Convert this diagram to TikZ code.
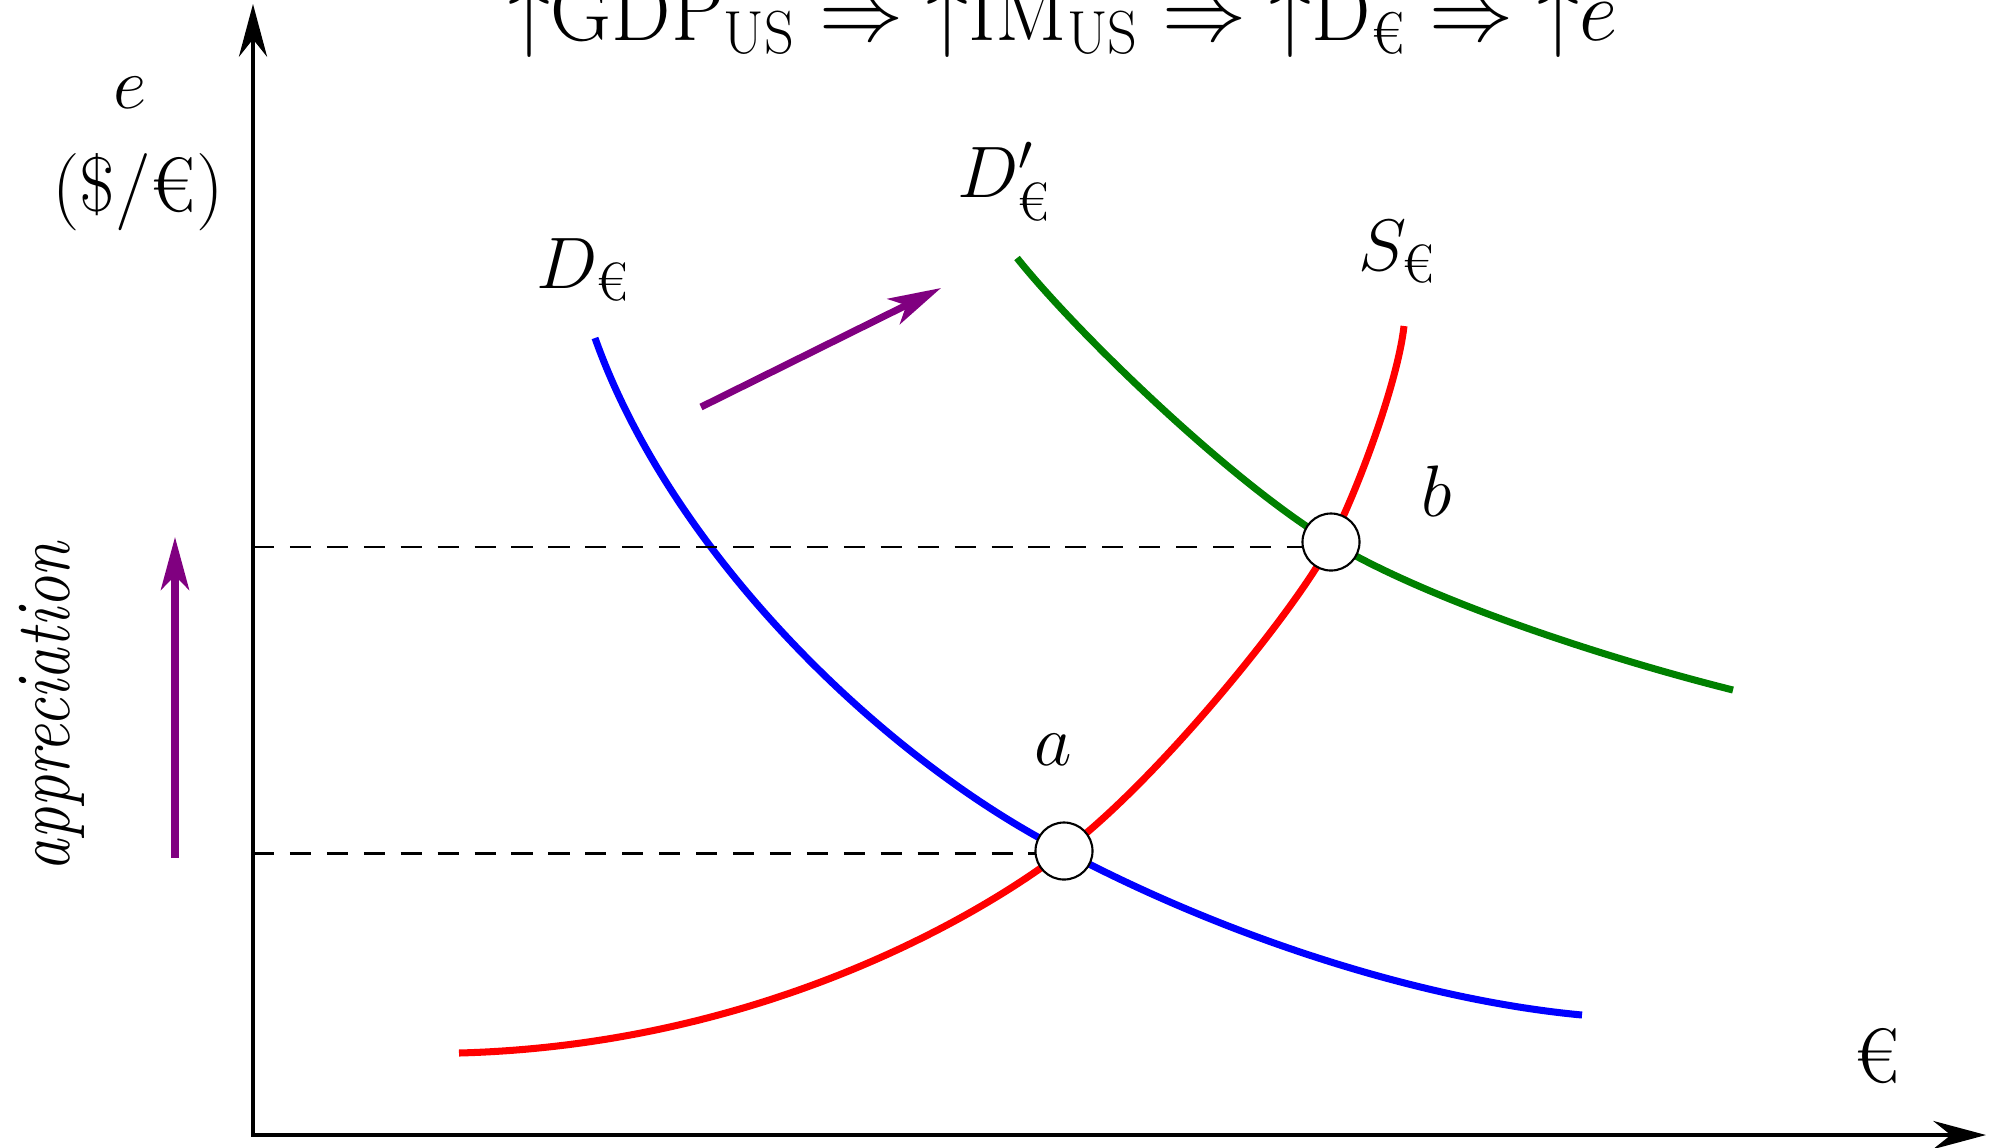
\documentclass[tikz,border=0pt]{standalone}
\usepackage{amsmath}
\usetikzlibrary{arrows.meta}
\definecolor{dgreen}{RGB}{0,128,0}
\definecolor{purp}{RGB}{128,0,128}
\newcommand{\eur}{\text{€}}
\begin{document}
\begin{tikzpicture}[x=0.01cm,y=-0.01cm,
  lbl/.style={inner sep=0pt, font=\fontsize{22}{26}\selectfont},
  axisline/.style={line width=1.1pt, -{Stealth[length=15pt,width=8pt,inset=5pt]}},
  curve/.style={line width=2pt},
  shiftarrow/.style={purp, line width=2pt, -{Stealth[length=15pt,width=8pt,inset=4pt]}},
  guide/.style={line width=0.75pt, dash pattern=on 6pt off 4.5pt},
  eqpt/.style={circle, draw=black, fill=white, line width=0.6pt, minimum size=0.57cm, inner sep=0pt}]
\useasboundingbox (0,0) rectangle (1990,1147);
\clip (0,0) rectangle (1990,1147);

% axes
\coordinate (O) at (253,1135);
\coordinate (Ytop) at (253,4);
\coordinate (Xend) at (1986,1135);
\draw[axisline] ([yshift=-0.55pt]O) -- (Ytop);
\draw[axisline] ([xshift=-0.55pt]O) -- (Xend);

% equilibrium positions
\coordinate (pa) at (1064,851);
\coordinate (pb) at (1331,542);

% curve end points
\coordinate (Dstart) at (595,338);
\coordinate (Dend) at (1582,1015);
\coordinate (Sstart) at (459,1053);
\coordinate (Send) at (1404,326);
\coordinate (Gstart) at (1017,258);
\coordinate (Gend) at (1733,690);

% curves
\draw[curve, blue] (Dstart) .. controls (672,555) and (885,760) .. (pa)
                        .. controls (1224,936) and (1420,1000) .. (Dend);
\draw[curve, red] (Sstart) .. controls (760,1045) and (980,916) .. (pa)
                       .. controls (1162,777) and (1303,600) .. (pb)
                       .. controls (1360,485) and (1398,380) .. (Send);
\draw[curve, dgreen] (Gstart) .. controls (1077,333) and (1231,482) .. (pb)
                          .. controls (1431,602) and (1613,660) .. (Gend);

% equilibrium circles
\node[eqpt] (a) at (pa) {};
\node[eqpt] (b) at (pb) {};

% dashed guides
\draw[guide] (O |- a.185) -- (a.185);
\draw[guide] (O |- b.190) -- (b.190);

% shift arrows
\coordinate (s1) at (701,407);
\coordinate (s2) at (941,288);
\draw[shiftarrow] (s1) -- (s2);
\coordinate (v1) at (175,858);
\coordinate (v2) at (175,537);
\draw[shiftarrow] (v1) -- (v2);

% labels
\node[lbl, font=\fontsize{24}{29}\selectfont, xscale=0.96, anchor=base] (title) at (1063,40) {${\uparrow}\mathrm{GDP}_{\mathrm{US}} \Rightarrow {\uparrow}\mathrm{IM}_{\mathrm{US}} \Rightarrow {\uparrow}\mathrm{D}_{\eur} \Rightarrow {\uparrow}e$};
\node[lbl, anchor=base] (elbl) at (130,108) {$e$};
\node[lbl, anchor=base] (unit) at (138,211) {(\$/€)};
\node[lbl, anchor=base west] (Dlbl) at (536,288) {$D_{\eur}$};
\node[lbl, anchor=base west] (Dplbl) at (957,197) {$D'_{\eur}$};
\node[lbl, anchor=base west] (Slbl) at (1358,270) {$S_{\eur}$};
\node[lbl, anchor=base] (alb) at (1053,765) {$a$};
\node[lbl, anchor=base] (blb) at (1437,516) {$b$};
\node[lbl, anchor=base] (xlbl) at (1877,1082) {€};
\node[lbl, rotate=90, xscale=0.82, anchor=base] (appr) at (70,706) {\textit{appreciation}};
\end{tikzpicture}
\end{document}
